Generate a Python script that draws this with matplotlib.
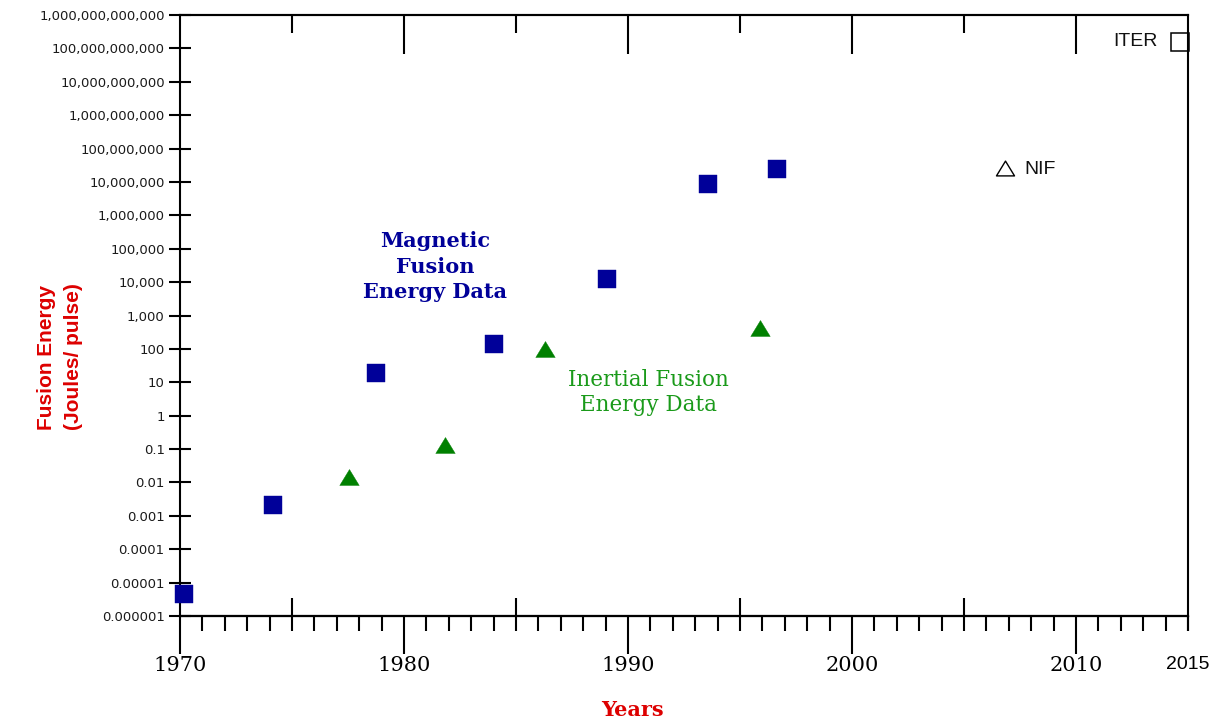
import matplotlib
matplotlib.use("Agg")
import matplotlib.pyplot as plt
from matplotlib.path import Path
from matplotlib.ticker import FixedLocator, NullLocator, MultipleLocator

# ---- data ----
mfe_years = [1970.18, 1974.14, 1978.77, 1984.0, 1989.08, 1993.56, 1996.63]
mfe_energy = [4.6e-6, 2.1e-3, 19, 137, 1.22e4, 8.9e6, 2.5e7]
ife_years = [1977.55, 1981.81, 1986.28, 1995.91]
ife_energy = [0.0141, 0.128, 101, 414]
nif_year = [2006.84]
nif_energy = [2.6e7]
iter_year = [2014.64]
iter_energy = [1.6e11]

x_decades = [1970, 1980, 1990, 2000, 2010]
x_decade_labels = ["1970", "1980", "1990", "2000", "2010"]
x_half = [1975, 1985, 1995, 2005]
x_end = [2015]
x_end_labels = ["2015"]
y_ticks = [1e-6, 1e-5, 1e-4, 1e-3, 1e-2, 1e-1, 1, 10, 100, 1e3, 1e4, 1e5,
           1e6, 1e7, 1e8, 1e9, 1e10, 1e11, 1e12]
y_labels = ["0.000001", "0.00001", "0.0001", "0.001", "0.01", "0.1", "1",
            "10", "100", "1,000", "10,000", "100,000", "1,000,000",
            "10,000,000", "100,000,000", "1,000,000,000", "10,000,000,000",
            "100,000,000,000", "1,000,000,000,000"]

NAVY = "#000099"
GREEN = "#008000"
RED = "#dd0000"
SANS = ["Liberation Sans", "DejaVu Sans"]
WIDE_SANS = ["DejaVu Sans"]
SERIF = ["DejaVu Serif"]

W, H = 1221, 724
fig = plt.figure(figsize=(W / 100, H / 100), dpi=100)
L, R, T, B = 180, 1188, 15, 616
ax = fig.add_axes([L / W, (H - B) / H, (R - L) / W, (B - T) / H])

# markers
tri = Path([(-1, -0.82), (1, -0.82), (0, 0.82), (-1, -0.82)],
           [Path.MOVETO, Path.LINETO, Path.LINETO, Path.CLOSEPOLY])
ax.plot(mfe_years, mfe_energy, linestyle="none", marker="s", ms=13.5,
        mfc=NAVY, mec=NAVY, mew=0.3, clip_on=False, zorder=3)
ax.plot(ife_years, ife_energy, linestyle="none", marker=tri, ms=14,
        mfc=GREEN, mec=GREEN, mew=0.3, clip_on=False, zorder=3)
ax.plot(nif_year, nif_energy, linestyle="none", marker=tri, ms=13,
        mfc="none", mec="black", mew=1.0, zorder=3)
ax.plot(iter_year, iter_energy, linestyle="none", marker="s", ms=13,
        mfc="none", mec="black", mew=1.1, clip_on=False, zorder=1)

ax.set_xlim(1970, 2015)
ax.set_yscale("log")
ax.set_ylim(1e-6, 1e12)

for s in ax.spines.values():
    s.set_linewidth(1.5)
    s.set_color("black")

# x axis: bottom ticks
ax.xaxis.set_major_locator(FixedLocator(x_decades))
ax.set_xticklabels(x_decade_labels, fontfamily=SERIF, fontsize=15)
ax.xaxis.set_minor_locator(MultipleLocator(1))
ax.tick_params(axis="x", which="major", direction="out", length=27,
               width=1.5, pad=2, top=False)
ax.tick_params(axis="x", which="minor", direction="out", length=11,
               width=1.5, top=False)

# y axis
ax.set_yticks(y_ticks, labels=y_labels, fontfamily=WIDE_SANS, fontsize=9.5,
              color="#1a1a1a")
ax.yaxis.set_minor_locator(NullLocator())
ax.tick_params(axis="y", which="major", direction="inout", length=16,
               width=1.5, pad=3, right=False)

# inward half-decade ticks at bottom
sb = ax.secondary_xaxis("bottom")
sb.set_xticks(x_half, labels=[""] * len(x_half))
sb.xaxis.set_minor_locator(NullLocator())
sb.tick_params(direction="in", length=13, width=1.5)
sb.spines["bottom"].set_linewidth(1.5)

# 2015 end label
se = ax.secondary_xaxis("bottom")
se.set_xticks(x_end, labels=x_end_labels, fontfamily=SANS, fontsize=14)
se.xaxis.set_minor_locator(NullLocator())
se.tick_params(direction="out", length=11, width=1.5, pad=18)
se.spines["bottom"].set_linewidth(1.5)

# top ticks
st = ax.secondary_xaxis("top")
st.set_xticks(x_decades[1:], labels=[""] * 4)
st.xaxis.set_minor_locator(FixedLocator(x_half))
st.tick_params(which="major", direction="in", length=28, width=1.5)
st.tick_params(which="minor", direction="in", length=13, width=1.5)
st.spines["top"].set_linewidth(1.5)

# annotations
ax.text(0.253, 0.581, "Magnetic\nFusion\nEnergy Data", transform=ax.transAxes,
        ha="center", va="center", multialignment="center", color=NAVY,
        fontfamily=SERIF, fontweight="bold", fontsize=15, linespacing=1.34)
ax.text(0.4648, 0.372, "Inertial Fusion\nEnergy Data", transform=ax.transAxes,
        ha="center", va="center", multialignment="center", color="#1a9a1a",
        fontfamily=SERIF, fontsize=15.5, linespacing=1.22)
fig.text(1158 / W, 1 - 41 / H, "ITER", ha="right", va="center",
         fontfamily=SANS, fontsize=14, color="#111111")
fig.text(1024 / W, 1 - 169 / H, "NIF", ha="left", va="center",
         fontfamily=SANS, fontsize=14, color="#111111")

# axis titles
fig.text(60 / W, 1 - 357 / H, "Fusion Energy\n(Joules/ pulse)", rotation=90,
         ha="center", va="center", multialignment="center", color=RED,
         fontfamily=SANS, fontweight="bold", fontsize=15, linespacing=1.55)
fig.text(632.5 / W, 1 - 716 / H, "Years", ha="center", va="baseline",
         color=RED, fontfamily=SERIF, fontweight="bold", fontsize=15)

fig.savefig("out.png", dpi=100)
